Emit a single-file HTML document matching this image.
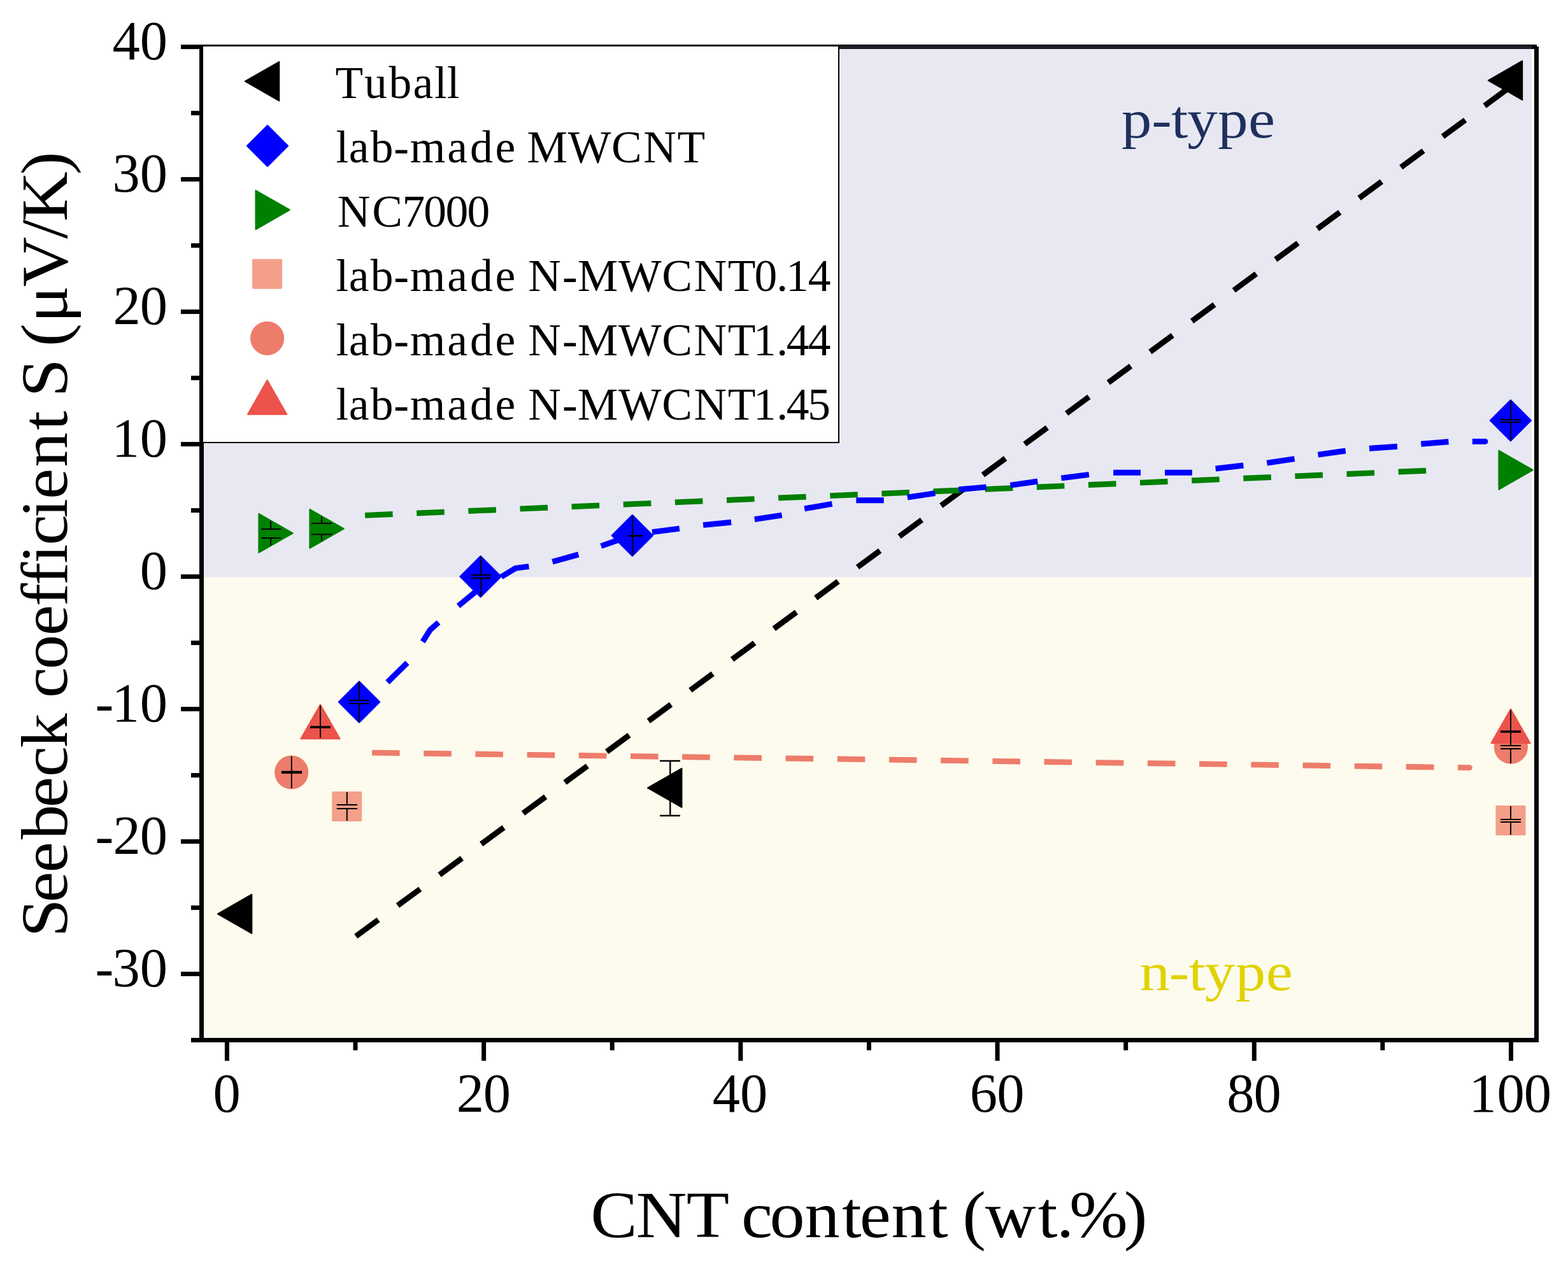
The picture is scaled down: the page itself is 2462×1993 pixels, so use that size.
<!DOCTYPE html>
<html><head><meta charset="utf-8"><title>Seebeck coefficient vs CNT content</title>
<style>
html,body{margin:0;padding:0;background:#fff;}
body{width:2462px;height:1993px;overflow:hidden;}
svg{display:block;}
svg text{font-family:'Liberation Serif', 'DejaVu Serif', serif;fill:#000;}
</style></head><body>
<svg width="2462" height="1993" viewBox="0 0 2462 1993">
<rect x="0" y="0" width="2462" height="1993" fill="#fff"/>
<rect x="313.00" y="70.00" width="2100.00" height="7.00" fill="#000"/>
<rect x="316.00" y="72.00" width="2089.00" height="834.60" fill="rgb(146, 146, 192)" fill-opacity="0.208"/>
<rect x="316.00" y="906.60" width="2089.00" height="720.40" fill="#FDFBED"/>
<rect x="313.00" y="70.00" width="7.00" height="1567.00" fill="#000"/>
<rect x="2409.00" y="73.00" width="7.00" height="1564.00" fill="#000"/>
<rect x="300.00" y="1630.00" width="2116.00" height="7.00" fill="#000"/>
<rect x="284.00" y="1526.10" width="29.00" height="7.00" fill="#000"/>
<rect x="284.00" y="1318.10" width="29.00" height="7.00" fill="#000"/>
<rect x="284.00" y="1110.10" width="29.00" height="7.00" fill="#000"/>
<rect x="284.00" y="902.10" width="29.00" height="7.00" fill="#000"/>
<rect x="284.00" y="694.10" width="29.00" height="7.00" fill="#000"/>
<rect x="284.00" y="486.10" width="29.00" height="7.00" fill="#000"/>
<rect x="284.00" y="278.10" width="29.00" height="7.00" fill="#000"/>
<rect x="284.00" y="70.10" width="29.00" height="7.00" fill="#000"/>
<rect x="300.00" y="1630.10" width="13.00" height="7.00" fill="#000"/>
<rect x="300.00" y="1422.10" width="13.00" height="7.00" fill="#000"/>
<rect x="300.00" y="1214.10" width="13.00" height="7.00" fill="#000"/>
<rect x="300.00" y="1006.10" width="13.00" height="7.00" fill="#000"/>
<rect x="300.00" y="798.10" width="13.00" height="7.00" fill="#000"/>
<rect x="300.00" y="590.10" width="13.00" height="7.00" fill="#000"/>
<rect x="300.00" y="382.10" width="13.00" height="7.00" fill="#000"/>
<rect x="300.00" y="174.10" width="13.00" height="7.00" fill="#000"/>
<rect x="352.90" y="1637.00" width="7.00" height="29.00" fill="#000"/>
<rect x="756.12" y="1637.00" width="7.00" height="29.00" fill="#000"/>
<rect x="1159.34" y="1637.00" width="7.00" height="29.00" fill="#000"/>
<rect x="1562.56" y="1637.00" width="7.00" height="29.00" fill="#000"/>
<rect x="1965.78" y="1637.00" width="7.00" height="29.00" fill="#000"/>
<rect x="2369.00" y="1637.00" width="7.00" height="29.00" fill="#000"/>
<rect x="554.51" y="1637.00" width="7.00" height="12.50" fill="#000"/>
<rect x="957.73" y="1637.00" width="7.00" height="12.50" fill="#000"/>
<rect x="1360.95" y="1637.00" width="7.00" height="12.50" fill="#000"/>
<rect x="1764.17" y="1637.00" width="7.00" height="12.50" fill="#000"/>
<rect x="2167.39" y="1637.00" width="7.00" height="12.50" fill="#000"/>
<rect x="319.00" y="73.00" width="997.00" height="621.00" fill="#fff"/>
<rect x="313.00" y="70.00" width="1005.00" height="3.00" fill="#000"/>
<rect x="1316.00" y="70.00" width="2.00" height="626.00" fill="#000"/>
<rect x="313.00" y="694.00" width="1005.00" height="2.00" fill="#000"/>
<text transform="scale(0.9900,1.0000)" x="151.12 178.22 222.01" y="1549.00" font-size="87.40" style="font-variant-ligatures:none;font-kerning:none">-30</text>
<text transform="scale(0.9900,1.0000)" x="151.12 179.40 222.01" y="1341.00" font-size="87.40" style="font-variant-ligatures:none;font-kerning:none">-20</text>
<text transform="scale(0.9900,1.0000)" x="151.12 177.43 222.01" y="1133.00" font-size="87.40" style="font-variant-ligatures:none;font-kerning:none">-10</text>
<text transform="scale(0.9900,1.0000)" x="222.01" y="925.00" font-size="87.40" style="font-variant-ligatures:none;font-kerning:none">0</text>
<text transform="scale(0.9900,1.0000)" x="177.43 222.01" y="717.00" font-size="87.40" style="font-variant-ligatures:none;font-kerning:none">10</text>
<text transform="scale(0.9900,1.0000)" x="179.40 222.01" y="509.00" font-size="87.40" style="font-variant-ligatures:none;font-kerning:none">20</text>
<text transform="scale(0.9900,1.0000)" x="178.22 222.01" y="301.00" font-size="87.40" style="font-variant-ligatures:none;font-kerning:none">30</text>
<text transform="scale(0.9900,1.0000)" x="178.31 222.01" y="93.00" font-size="87.40" style="font-variant-ligatures:none;font-kerning:none">40</text>
<text transform="scale(0.9900,1.0000)" x="337.89" y="1746.00" font-size="87.40" style="font-variant-ligatures:none;font-kerning:none">0</text>
<text transform="scale(0.9900,1.0000)" x="723.91 766.53" y="1746.00" font-size="87.40" style="font-variant-ligatures:none;font-kerning:none">20</text>
<text transform="scale(0.9900,1.0000)" x="1130.12 1173.82" y="1746.00" font-size="87.40" style="font-variant-ligatures:none;font-kerning:none">40</text>
<text transform="scale(0.9900,1.0000)" x="1538.11 1581.11" y="1746.00" font-size="87.40" style="font-variant-ligatures:none;font-kerning:none">60</text>
<text transform="scale(0.9900,1.0000)" x="1945.73 1988.40" y="1746.00" font-size="87.40" style="font-variant-ligatures:none;font-kerning:none">80</text>
<text transform="scale(0.9900,1.0000)" x="2329.78 2374.36 2417.04" y="1746.00" font-size="87.40" style="font-variant-ligatures:none;font-kerning:none">100</text>
<text transform="scale(1.0616,1.0000)" x="873.56 940.87 1015.12 1078.54 1096.49 1138.37 1190.19 1245.21 1271.52 1318.39 1373.32 1402.17 1423.60 1456.94 1535.29 1562.51 1581.51 1662.29" y="1943.00" font-size="103.82" style="font-variant-ligatures:none;font-kerning:none">CNT content (wt.%)</text>
<text transform="translate(105.00,1465.00) rotate(-90) scale(1.0469,1.0000)" x="-6.63 45.65 90.35 140.22 188.02 233.81 277.43 329.34 352.16 395.33 445.87 489.76 521.37 554.20 581.21 622.68 650.43 698.63 754.06 782.91 803.52 861.26 879.51 915.44 968.95 1041.11 1067.32 1137.29" y="0.00" font-size="103.82" style="font-variant-ligatures:none;font-kerning:none">Seebeck coefficient S (μV/K)</text>
<text transform="scale(1.1152,1.0000)" x="1579.16 1621.43 1648.97 1671.72 1714.81 1757.64" y="216.40" font-size="85.00" style="font-variant-ligatures:none;font-kerning:none;fill:#1F305E">p-type</text>
<text transform="scale(1.1152,1.0000)" x="1604.54 1646.10 1673.65 1696.40 1739.48 1782.32" y="1554.80" font-size="85.00" style="font-variant-ligatures:none;font-kerning:none;fill:#E1D200">n-type</text>
<text transform="scale(1.0000,1.0000)" x="526.48 571.91 610.58 648.46 682.03 701.85" y="154.10" font-size="71.50" style="font-variant-ligatures:none;font-kerning:none">Tuball</text>
<text transform="scale(1.0000,1.0000)" x="527.51 547.81 581.64 618.29 643.84 702.33 738.06 777.61 809.35 827.45 891.63 959.89 1010.18 1063.52" y="255.10" font-size="71.50" style="font-variant-ligatures:none;font-kerning:none">lab-made MWCNT</text>
<text transform="scale(1.0000,1.0000)" x="529.73 584.31 631.59 665.37 699.42 733.47" y="356.10" font-size="71.50" style="font-variant-ligatures:none;font-kerning:none">NC7000</text>
<text transform="scale(1.0000,1.0000)" x="527.51 547.81 581.64 618.29 643.84 702.33 738.06 777.61 809.35 829.37 882.99 906.71 970.90 1039.15 1089.45 1142.79 1184.50 1219.18 1234.03 1268.80" y="457.10" font-size="71.50" style="font-variant-ligatures:none;font-kerning:none">lab-made N-MWCNT0.14</text>
<text transform="scale(1.0000,1.0000)" x="527.51 547.81 581.64 618.29 643.84 702.33 738.06 777.61 809.35 829.37 882.99 906.71 970.90 1039.15 1089.45 1142.79 1182.96 1219.18 1234.75 1268.80" y="558.10" font-size="71.50" style="font-variant-ligatures:none;font-kerning:none">lab-made N-MWCNT1.44</text>
<text transform="scale(1.0000,1.0000)" x="527.51 547.81 581.64 618.29 643.84 702.33 738.06 777.61 809.35 829.37 882.99 906.71 970.90 1039.15 1089.45 1142.79 1182.96 1219.18 1234.75 1268.19" y="659.10" font-size="71.50" style="font-variant-ligatures:none;font-kerning:none">lab-made N-MWCNT1.45</text>
<polygon points="384.88,127.70 438.31,97.11 438.31,158.29" fill="#000" stroke="#000" stroke-width="2" stroke-linejoin="round"/>
<polygon points="420.00,196.90 452.20,229.10 420.00,261.30 387.80,229.10" fill="#0000FF" stroke="#0000FF" stroke-width="2" stroke-linejoin="round"/>
<polygon points="454.92,329.70 401.49,299.11 401.49,360.29" fill="#008000" stroke="#008000" stroke-width="2" stroke-linejoin="round"/>
<rect x="396.00" y="406.70" width="47.00" height="47.00" rx="1.8" fill="#F49F8A"/>
<circle cx="419.60" cy="531.30" r="26.6" fill="#EE7C6B"/>
<polygon points="419.60,597.08 388.91,650.81 450.29,650.81" fill="#EB534B" stroke="#EB534B" stroke-width="2" stroke-linejoin="round"/>
<path d="M558.80,1470.50 L2372.50,135.60" stroke="#000" stroke-width="8.9" fill="none" stroke-dasharray="43.8 37.7" stroke-linecap="butt"/>
<path d="M584.00,1182.10 L2307.50,1205.60" stroke="#EE7C6B" stroke-width="8.9" fill="none" stroke-dasharray="43.6 37.6" stroke-linecap="butt"/>
<circle cx="2307.5" cy="1205.6" r="4.4" fill="#EE7C6B"/>
<path d="M573.10,809.40 L2240.00,739.20" stroke="#008000" stroke-width="8.9" fill="none" stroke-dasharray="43.6 37.6" stroke-linecap="butt"/>
<rect x="521.20" y="1243.00" width="47.00" height="47.00" rx="1.8" fill="#F49F8A"/>
<rect x="2348.50" y="1265.00" width="47.00" height="47.00" rx="1.8" fill="#F49F8A"/>
<circle cx="457.70" cy="1213.00" r="26.6" fill="#EE7C6B"/>
<circle cx="2372.40" cy="1173.20" r="26.6" fill="#EE7C6B"/>
<polygon points="503.00,1106.58 472.31,1160.31 533.69,1160.31" fill="#EB534B" stroke="#EB534B" stroke-width="2" stroke-linejoin="round"/>
<polygon points="2372.00,1113.48 2341.31,1167.21 2402.69,1167.21" fill="#EB534B" stroke="#EB534B" stroke-width="2" stroke-linejoin="round"/>
<polygon points="459.82,837.40 406.39,806.81 406.39,867.99" fill="#008000" stroke="#008000" stroke-width="2" stroke-linejoin="round"/>
<polygon points="539.82,830.40 486.39,799.81 486.39,860.99" fill="#008000" stroke="#008000" stroke-width="2" stroke-linejoin="round"/>
<polygon points="2406.82,738.20 2353.39,707.61 2353.39,768.79" fill="#008000" stroke="#008000" stroke-width="2" stroke-linejoin="round"/>
<polygon points="564.00,1070.30 596.20,1102.50 564.00,1134.70 531.80,1102.50" fill="#0000FF" stroke="#0000FF" stroke-width="2" stroke-linejoin="round"/>
<polygon points="754.60,873.30 786.80,905.50 754.60,937.70 722.40,905.50" fill="#0000FF" stroke="#0000FF" stroke-width="2" stroke-linejoin="round"/>
<polygon points="992.90,808.80 1025.10,841.00 992.90,873.20 960.70,841.00" fill="#0000FF" stroke="#0000FF" stroke-width="2" stroke-linejoin="round"/>
<polygon points="2371.90,628.20 2404.10,660.40 2371.90,692.60 2339.70,660.40" fill="#0000FF" stroke="#0000FF" stroke-width="2" stroke-linejoin="round"/>
<polygon points="341.88,1435.30 395.31,1404.71 395.31,1465.89" fill="#000" stroke="#000" stroke-width="2" stroke-linejoin="round"/>
<polygon points="1016.98,1237.40 1070.41,1206.81 1070.41,1267.99" fill="#000" stroke="#000" stroke-width="2" stroke-linejoin="round"/>
<polygon points="2336.78,126.30 2390.21,95.71 2390.21,156.89" fill="#000" stroke="#000" stroke-width="2" stroke-linejoin="round"/>
<path d="M564.0,1071.0 V1100.0 M564.0,1105.0 V1134.0" stroke="#000" stroke-width="2.0" fill="none"/><path d="M548.0,1100.0 H580.0 M548.0,1105.0 H580.0" stroke="#000" stroke-width="2.0" fill="none"/>
<path d="M755.0,874.0 V903.0 M755.0,908.0 V936.7" stroke="#000" stroke-width="2.0" fill="none"/><path d="M740.0,903.0 H771.0 M740.0,908.0 H771.0" stroke="#000" stroke-width="2.0" fill="none"/>
<path d="M993.1,810.0 V873.0" stroke="#000" stroke-width="2" fill="none"/><rect x="986.0" y="840.10" width="23.0" height="2.8" fill="#000"/>
<path d="M2372.0,629.2 V659.2 M2372.0,663.0 V691.4" stroke="#000" stroke-width="2.0" fill="none"/><path d="M2356.0,659.2 H2388.0 M2356.0,663.0 H2388.0" stroke="#000" stroke-width="2.0" fill="none"/>
<path d="M425.0,818.2 V831.0 M425.0,845.0 V856.8" stroke="#000" stroke-width="2.0" fill="none"/><path d="M410.0,831.0 H441.0 M410.0,845.0 H441.0" stroke="#000" stroke-width="2.0" fill="none"/>
<path d="M505.0,811.3 V822.0 M505.0,839.2 V849.7" stroke="#000" stroke-width="2.0" fill="none"/><path d="M489.0,822.0 H521.0 M489.0,839.2 H521.0" stroke="#000" stroke-width="2.0" fill="none"/>
<path d="M544.8,1244.0 V1264.0 M544.8,1270.0 V1289.0" stroke="#000" stroke-width="2.0" fill="none"/><path d="M528.7,1264.0 H561.0 M528.7,1270.0 H561.0" stroke="#000" stroke-width="2.0" fill="none"/>
<path d="M2372.0,1266.0 V1287.1 M2372.0,1291.1 V1311.0" stroke="#000" stroke-width="2.0" fill="none"/><path d="M2356.0,1287.1 H2388.0 M2356.0,1291.1 H2388.0" stroke="#000" stroke-width="2.0" fill="none"/>
<path d="M457.8,1187.7 V1238.0" stroke="#000" stroke-width="2" fill="none"/><rect x="441.8" y="1210.75" width="32.3" height="4.3" fill="#000"/>
<path d="M2372.0,1148.2 V1171.0 M2372.0,1176.0 V1198.8" stroke="#000" stroke-width="2.0" fill="none"/><path d="M2356.0,1171.0 H2388.0 M2356.0,1176.0 H2388.0" stroke="#000" stroke-width="2.0" fill="none"/>
<path d="M503.0,1108.0 V1158.8" stroke="#000" stroke-width="2" fill="none"/><rect x="487.0" y="1140.20" width="32.0" height="3.6" fill="#000"/>
<path d="M2372.0,1115.2 V1171.0" stroke="#000" stroke-width="2" fill="none"/><rect x="2356.0" y="1147.25" width="32.0" height="3.5" fill="#000"/>
<path d="M1052.3,1195 V1281 M1036,1195 H1068 M1036,1281 H1068" stroke="#000" stroke-width="2.4" fill="none"/>
<path d="M608.4,1071.5 L639.5,1041.0 M663.7,1007.9 L675.4,989.2 L688.6,977.5 M719.6,951.6 L753.3,924.0 M787.0,906.0 L809.6,892.4 L830.5,889.6 M867.4,882.2 L908.3,870.9 M943.8,857.6 L969.0,848.7 L985.3,843.0 M1024.0,835.7 L1066.9,830.1 M1104.1,824.6 L1148.1,820.3 M1184.8,815.6 L1227.7,809.1 M1263.2,798.8 L1306.6,791.4 M1344.3,785.8 L1387.7,785.8 M1424.8,781.1 L1468.3,774.6 M1505.3,768.7 L1548.6,765.0 M1586.4,762.2 L1629.3,756.0 M1666.4,750.8 L1709.9,745.4 M1748.1,742.2 L1791.0,742.2 M1829.0,742.3 L1871.8,742.3 M1908.6,736.0 L1952.4,731.0 M1989.3,727.2 L2032.6,720.7 M2069.5,714.2 L2112.8,708.0 M2150.0,704.3 L2194.0,701.3 M2231.3,697.3 L2274.5,693.8" stroke="#0000FF" stroke-width="8.9" fill="none" stroke-linecap="butt" stroke-linejoin="round"/>
<path d="M2311.8,693.4 L2332,693.4" stroke="#0000FF" stroke-width="8.9" fill="none"/>
<circle cx="2332" cy="693.4" r="4.45" fill="#0000FF"/>
</svg>
</body></html>
